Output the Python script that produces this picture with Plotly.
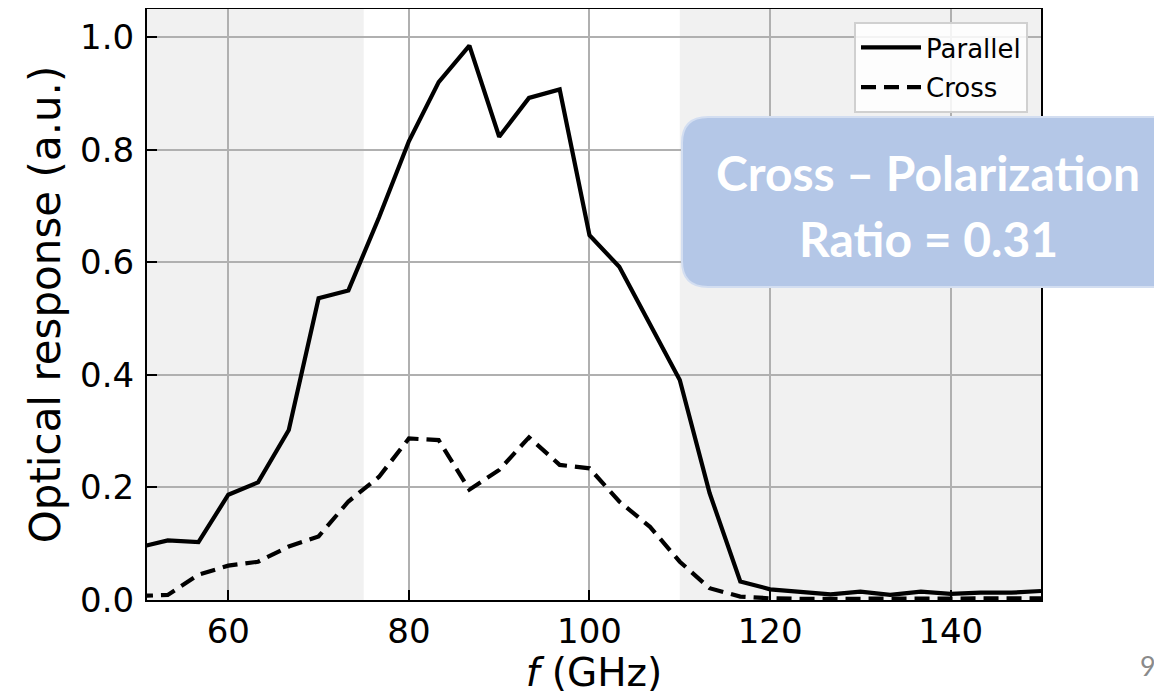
import plotly.graph_objects as go

# ---- data ----
freq_ghz = [50.0, 53.3, 56.7, 60.0, 63.3, 66.7, 70.0, 73.3, 76.7, 80.0, 83.3, 86.7,
            90.0, 93.3, 96.7, 100.0, 103.3, 106.7, 110.0, 113.3, 116.7, 120.0, 123.3,
            126.7, 130.0, 133.3, 136.7, 140.0, 143.3, 146.7, 150.0]
parallel = [0.093, 0.106, 0.103, 0.187, 0.209, 0.302, 0.536, 0.550, 0.680, 0.815, 0.920,
            0.985, 0.823, 0.892, 0.907, 0.648, 0.592, 0.490, 0.391, 0.190, 0.033, 0.019,
            0.015, 0.010, 0.015, 0.009, 0.015, 0.011, 0.013, 0.013, 0.016]
cross = [0.007, 0.009, 0.045, 0.061, 0.068, 0.095, 0.113, 0.175, 0.219, 0.287, 0.284,
         0.196, 0.231, 0.289, 0.240, 0.234, 0.175, 0.130, 0.068, 0.021, 0.006, 0.003,
         0.002, 0.002, 0.003, 0.002, 0.003, 0.002, 0.003, 0.003, 0.003]
shaded_bands = [(50, 75), (110, 150)]
x_ticks = [60, 80, 100, 120, 140]
y_ticks = [0.0, 0.2, 0.4, 0.6, 0.8, 1.0]

# page has an 8px body margin; work in page pixels and shift
OFF = 8
W, H = 1162 - OFF, 695 - OFF
L, R, T, B = 147 - OFF, 1041 - OFF, 9 - OFF, 600 - OFF


def px(x):
    return (x - OFF - L) / (R - L)


def py(y):
    return (B - (y - OFF)) / (B - T)


def rounded_rect(x0, y0, x1, y1, r):
    # page-pixel coords -> paper-coord path with quadratic-bezier corners
    pts = [
        f"M {px(x0 + r)},{py(y0)}",
        f"L {px(x1 - r)},{py(y0)}",
        f"Q {px(x1)},{py(y0)} {px(x1)},{py(y0 + r)}",
        f"L {px(x1)},{py(y1 - r)}",
        f"Q {px(x1)},{py(y1)} {px(x1 - r)},{py(y1)}",
        f"L {px(x0 + r)},{py(y1)}",
        f"Q {px(x0)},{py(y1)} {px(x0)},{py(y1 - r)}",
        f"L {px(x0)},{py(y0 + r)}",
        f"Q {px(x0)},{py(y0)} {px(x0 + r)},{py(y0)}",
        "Z",
    ]
    return " ".join(pts)


fig = go.Figure()
fig.add_trace(go.Scatter(x=freq_ghz, y=parallel, mode="lines", name="Parallel",
                         legendgroup="a",
                         line=dict(color="black", width=4.2)))
fig.add_trace(go.Scatter(x=freq_ghz, y=cross, mode="lines", name="Cross",
                         legendgroup="b",
                         line=dict(color="black", width=4.2, dash="15px,8px")))

shapes = []
for a, b in shaded_bands:
    shapes.append(dict(type="rect", xref="x", yref="paper", x0=a, x1=b, y0=0, y1=1,
                       fillcolor="#f1f1f1", line=dict(width=0), layer="below"))
# blue callout box
shapes.append(dict(type="path", xref="paper", yref="paper",
                   path=rounded_rect(682, 117, 1180, 287, 26),
                   fillcolor="#b4c7e7", line=dict(color="#d3def1", width=2),
                   layer="above"))

annotations = [
    dict(text="<b>Cross – Polarization</b>", xref="paper", yref="paper",
         x=px(928), y=py(172), showarrow=False,
         font=dict(family="Lato", size=48, color="white"),
         xanchor="center", yanchor="middle"),
    dict(text="<b>Ratio = 0.31</b>", xref="paper", yref="paper",
         x=px(928), y=py(238), showarrow=False,
         font=dict(family="Lato", size=48, color="white"),
         xanchor="center", yanchor="middle"),
    dict(text="9", xref="paper", yref="paper", x=px(1148), y=py(665),
         showarrow=False, font=dict(family="Lato", size=27, color="#8a8a8a"),
         xanchor="center", yanchor="middle"),
]

axis_common = dict(
    showline=True, linecolor="black", linewidth=2, mirror=True,
    ticks="inside", ticklen=10, tickwidth=2, tickcolor="black",
    showgrid=True, gridcolor="#b0b0b0", gridwidth=1.5, zeroline=False,
    tickfont=dict(family="DejaVu Sans", size=34, color="black"),
)

fig.update_layout(
    width=W, height=H,
    margin=dict(l=L, r=W - R, t=T, b=H - B, autoexpand=False),
    paper_bgcolor="white", plot_bgcolor="white",
    xaxis=dict(range=[51, 150], tickvals=x_ticks, **axis_common,
               title=dict(text="<i>f</i> (GHz)", standoff=12,
                          font=dict(family="DejaVu Sans", size=39, color="black"))),
    yaxis=dict(range=[0, 1.05], tickvals=y_ticks, tickformat=".1f", **axis_common,
               ticklabelstandoff=4,
               title=dict(text="Optical response (a.u.)", standoff=6,
                          font=dict(family="DejaVu Sans", size=42, color="black"))),
    legend=dict(x=px(1028), y=py(22), xanchor="right", yanchor="top",
                bgcolor="rgba(255,255,255,0.85)", bordercolor="#d0d0d0", borderwidth=2,
                font=dict(family="DejaVu Sans", size=26, color="black"),
                itemwidth=60, tracegroupgap=3),
    shapes=shapes,
    annotations=annotations,
    showlegend=True,
)

fig.write_html("out.html")
